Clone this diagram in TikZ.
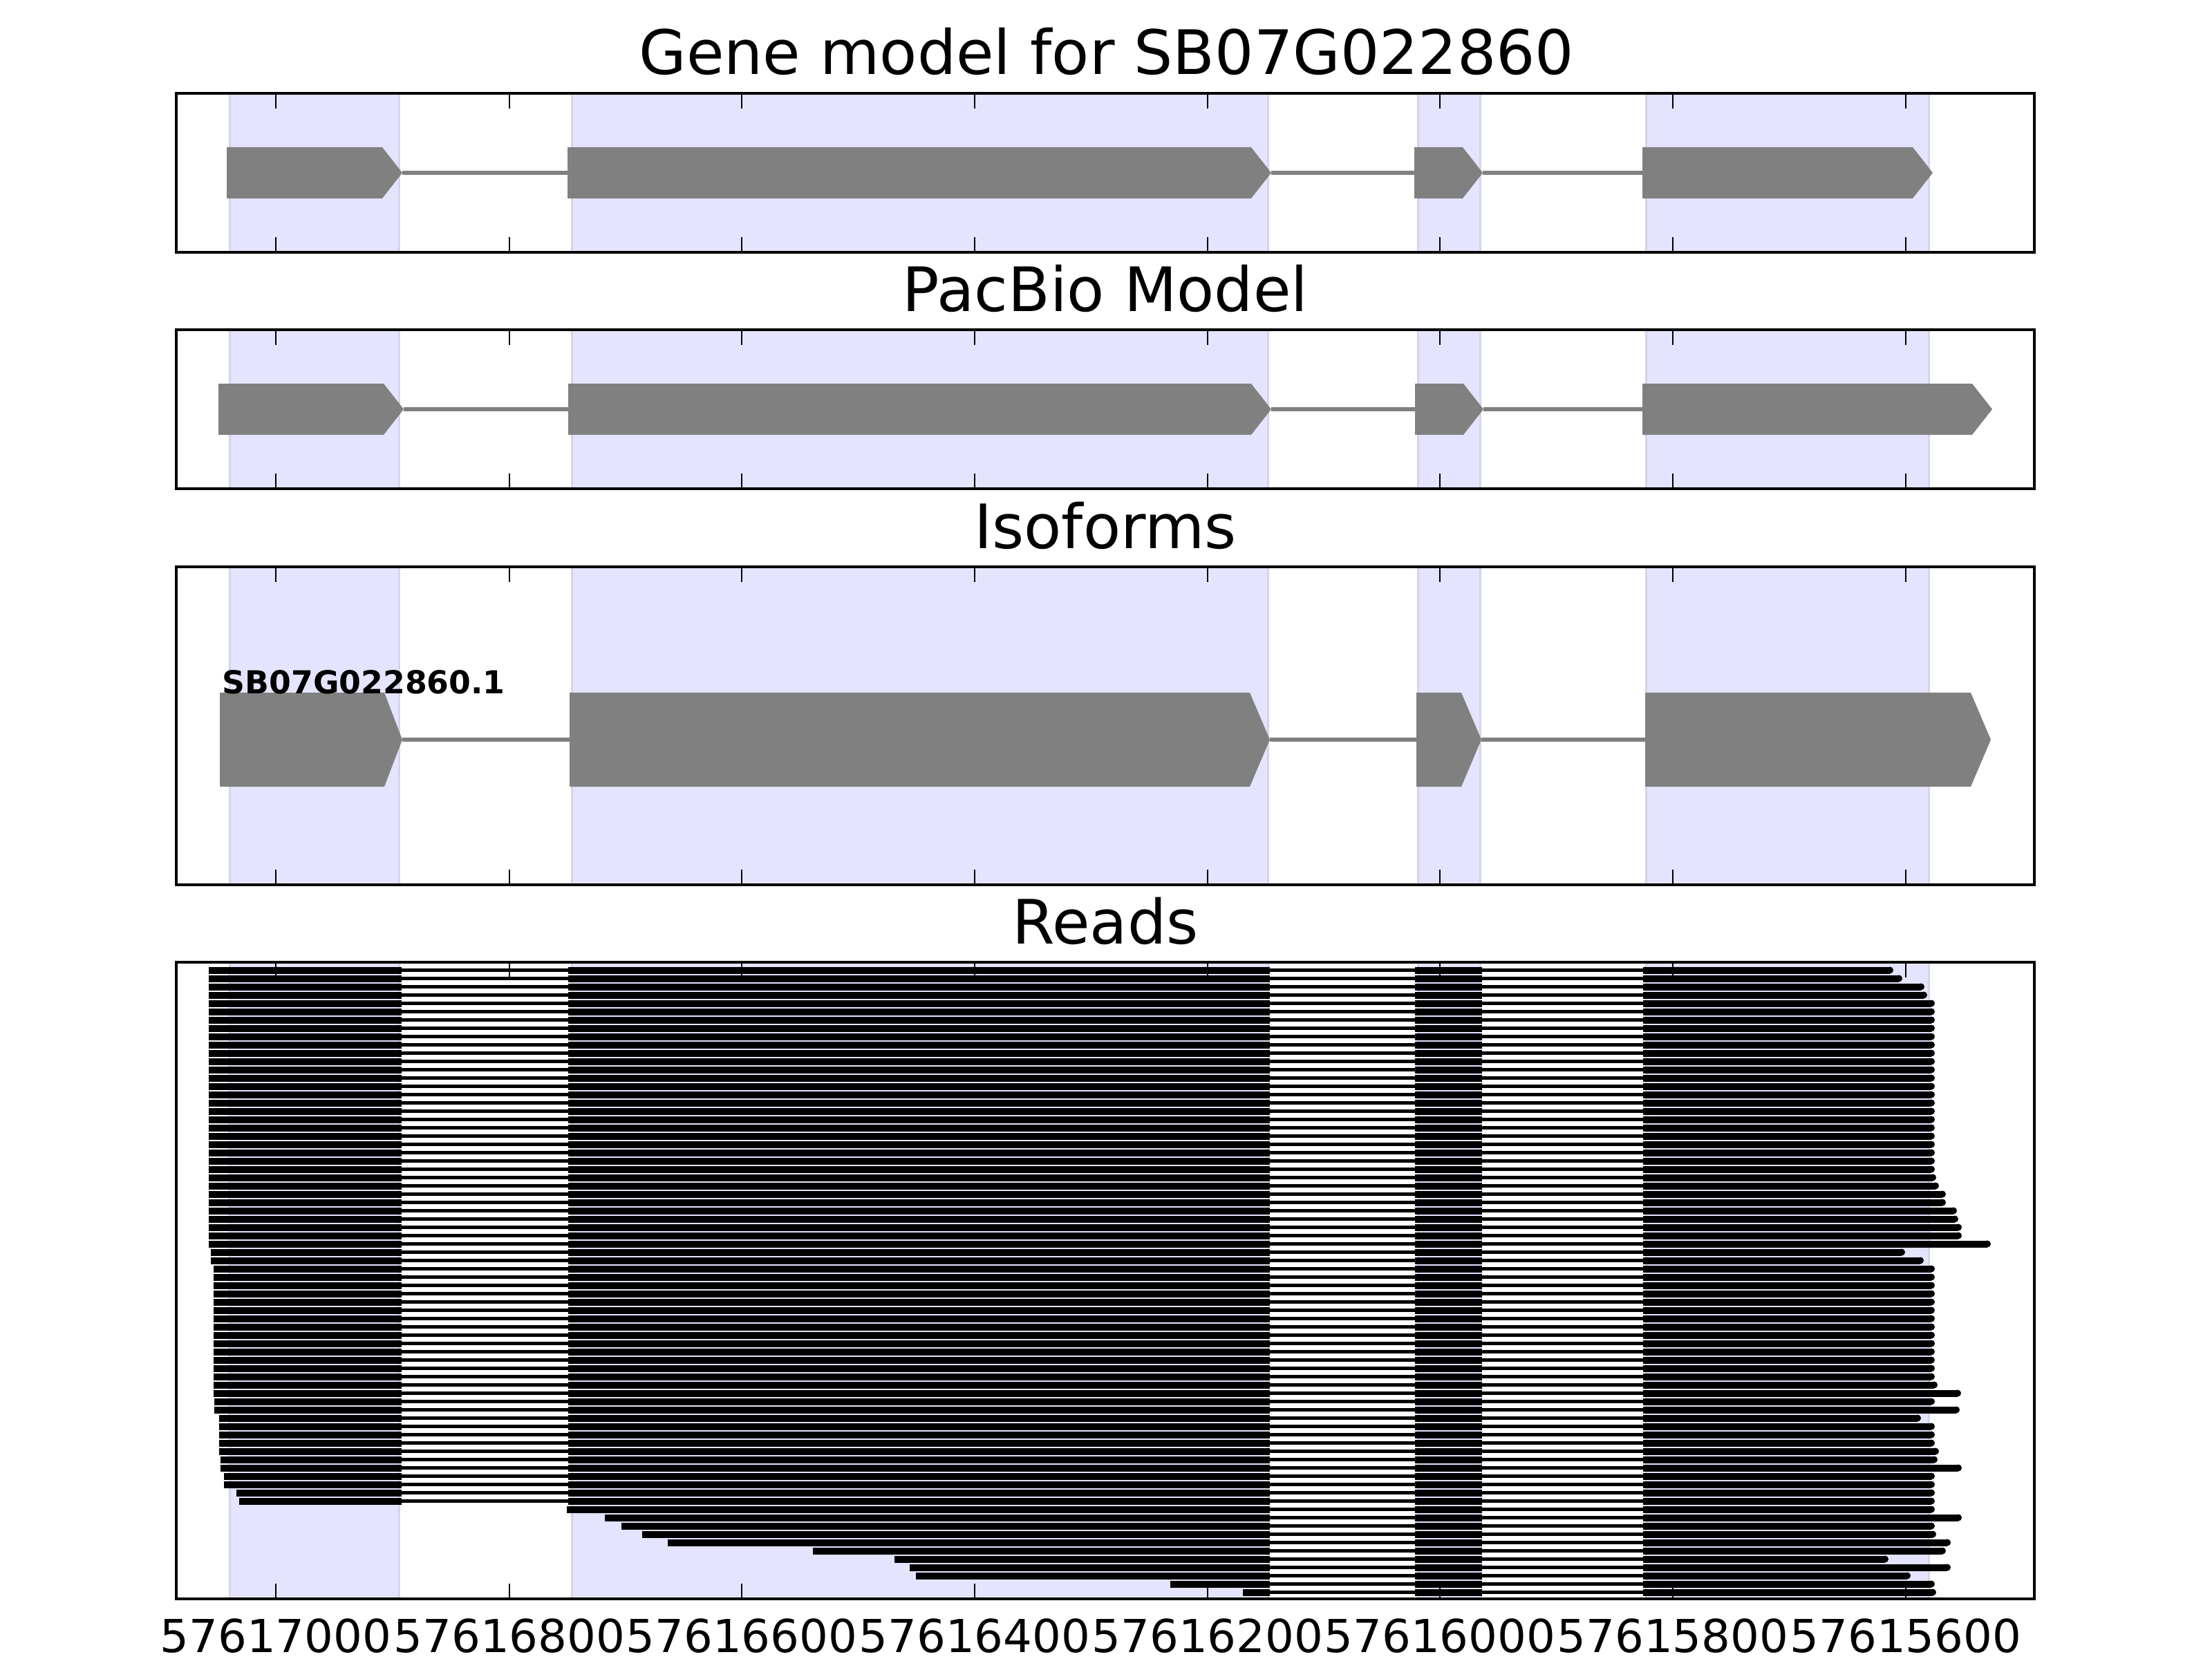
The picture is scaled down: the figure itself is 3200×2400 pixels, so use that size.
\documentclass[tikz,border=0pt]{standalone}
\usepackage{fontspec}
\setmainfont{DejaVu Sans}
\definecolor{spanfill}{RGB}{228,228,255}
\definecolor{spanedge}{RGB}{212,212,234}
\definecolor{exongray}{RGB}{128,128,128}
\tikzset{
  spanbox/.style={fill=spanfill,draw=spanedge,line width=0.03cm},
  frame/.style={draw=black,line width=0.045cm},
  tickmark/.style={draw=black,line width=0.025cm},
  gexon/.style={fill=exongray},
  gintron/.style={draw=exongray,line width=0.055cm},
  rexon/.style={fill=black},
  rintron/.style={draw=black,line width=0.05cm},
  ttl/.style={font=\fontsize{25.2}{30}\selectfont,anchor=base,inner sep=0pt},
  ticklab/.style={font=\fontsize{18.7}{22}\selectfont,anchor=base,inner sep=0pt},
  isolab/.style={font=\bfseries\fontsize{13}{15}\selectfont,anchor=base west,inner sep=0pt},
}
% gene-model exon: left, flat end, tip, top, bottom
\newcommand{\gmexon}[5]{%
  \fill[gexon] (#1,#4) -- (#2,#4) -- (#3,{(#4+#5)/2}) -- (#2,#5) -- (#1,#5) -- cycle;}
% read covering all four exons
\newcommand{\rrowa}[3]{%
  \pgfmathsetmacro{\yc}{1403.5+12*(#1-1)}%
  \pgfmathsetmacro{\ee}{#3-5}%
  \fill[rexon] (#2,{\yc-5}) rectangle (581,{\yc+5});
  \draw[rintron] (581,\yc) -- (822,\yc);
  \fill[rexon] (822,{\yc-5}) rectangle (1837,{\yc+5});
  \draw[rintron] (1837,\yc) -- (2047,\yc);
  \fill[rexon] (2047,{\yc-5}) rectangle (2144,{\yc+5});
  \draw[rintron] (2144,\yc) -- (2377,\yc);
  \fill[rexon] (2377,{\yc-5}) rectangle (\ee,{\yc+5});
  \fill[rexon] (\ee,\yc) circle[radius=0.05cm];}
% read starting inside exon 2
\newcommand{\rrowb}[3]{%
  \pgfmathsetmacro{\yc}{1403.5+12*(#1-1)}%
  \pgfmathsetmacro{\ee}{#3-5}%
  \fill[rexon] (#2,{\yc-5}) rectangle (1837,{\yc+5});
  \draw[rintron] (1837,\yc) -- (2047,\yc);
  \fill[rexon] (2047,{\yc-5}) rectangle (2144,{\yc+5});
  \draw[rintron] (2144,\yc) -- (2377,\yc);
  \fill[rexon] (2377,{\yc-5}) rectangle (\ee,{\yc+5});
  \fill[rexon] (\ee,\yc) circle[radius=0.05cm];}
\begin{document}
\begin{tikzpicture}[x=0.01cm,y=-0.01cm]
\useasboundingbox (0,0) rectangle (3200,2400);
\fill[white] (0,0) rectangle (3200,2400);

% shaded exon spans in every panel
\foreach \t/\b in {135/365,477/707,820/1280,1392/2313}{
  \foreach \a/\c in {332/577,827/1834,2051/2141,2381/2790}{
    \path[spanbox] (\a,\t) rectangle (\c,\b);
  }
}

% ---- Panel 1: gene model
\draw[gintron] (582,250) -- (821,250);
\draw[gintron] (1839,250) -- (2046,250);
\draw[gintron] (2145,250) -- (2376,250);
\gmexon{328}{553}{582}{213}{287}
\gmexon{821}{1810}{1839}{213}{287}
\gmexon{2046}{2116}{2145}{213}{287}
\gmexon{2376}{2767}{2796}{213}{287}

% ---- Panel 2: PacBio model
\draw[gintron] (584,592) -- (822,592);
\draw[gintron] (1839,592) -- (2047,592);
\draw[gintron] (2146,592) -- (2376,592);
\gmexon{316}{555}{584}{555}{629}
\gmexon{822}{1810}{1839}{555}{629}
\gmexon{2047}{2117}{2146}{555}{629}
\gmexon{2376}{2853}{2882}{555}{629}

% ---- Panel 3: isoforms
\draw[gintron] (582,1070) -- (824,1070);
\draw[gintron] (1837,1070) -- (2049,1070);
\draw[gintron] (2143,1070) -- (2380,1070);
\gmexon{318}{556}{582}{1002}{1138}
\gmexon{824}{1808}{1837}{1002}{1138}
\gmexon{2049}{2114}{2143}{1002}{1138}
\gmexon{2380}{2851}{2880}{1002}{1138}
\node[isolab] (isoname) at (321,1003) {SB07G022860.1};

% ---- Panel 4: reads
\rrowa{1}{302}{2739}
\rrowa{2}{302}{2752}
\rrowa{3}{302}{2784}
\rrowa{4}{302}{2788}
\foreach \k in {5,...,25}{\rrowa{\k}{302}{2799}}
\rrowa{26}{302}{2801}
\rrowa{27}{302}{2805}
\rrowa{28}{302}{2815}
\rrowa{29}{302}{2815}
\rrowa{30}{302}{2831}
\rrowa{31}{302}{2833}
\rrowa{32}{302}{2838}
\rrowa{33}{302}{2838}
\rrowa{34}{302}{2880}
\rrowa{35}{305}{2756}
\rrowa{36}{305}{2783}
\foreach \k in {37,...,50}{\rrowa{\k}{309}{2799}}
\rrowa{51}{309}{2803}
\rrowa{52}{309}{2837}
\rrowa{53}{310}{2799}
\rrowa{54}{310}{2835}
\rrowa{55}{317}{2779}
\rrowa{56}{317}{2799}
\rrowa{57}{317}{2799}
\rrowa{58}{317}{2799}
\rrowa{59}{317}{2805}
\rrowa{60}{319}{2803}
\rrowa{61}{319}{2838}
\rrowa{62}{324}{2799}
\rrowa{63}{324}{2799}
\rrowa{64}{342}{2799}
\rrowa{65}{346}{2799}
\rrowb{66}{820}{2799}
\rrowb{67}{875}{2838}
\rrowb{68}{899}{2799}
\rrowb{69}{929}{2801}
\rrowb{70}{966}{2822}
\rrowb{71}{1176}{2815}
\rrowb{72}{1294}{2732}
\rrowb{73}{1316}{2822}
\rrowb{74}{1325}{2764}
\rrowb{75}{1693}{2799}
\rrowb{76}{1798}{2801}

% ---- ticks and frames
\foreach \t/\b in {135/365,477/707,820/1280,1392/2313}{
  \foreach \x in {399,737,1073,1410,1747,2083,2420,2757}{
    \draw[tickmark] (\x,\t) -- (\x,\t+22);
    \draw[tickmark] (\x,\b) -- (\x,\b-22);
  }
  \draw[frame] (255,\t) rectangle (2943,\b);
}

% ---- titles
\node[ttl] (title1) at (1601,108) {Gene model for SB07G022860};
\node[ttl] (title2) at (1599,450) {PacBio Model};
\node[ttl] (title3) at (1599,793) {Isoforms};
\node[ttl] (title4) at (1599,1365) {Reads};

% ---- tick labels
\foreach \x/\l in {399/57617000,737/57616800,1073/57616600,1410/57616400,1747/57616200,2083/57616000,2420/57615800,2757/57615600}{
  \node[ticklab] (tl\l) at (\x,2390) {\l};
}
\end{tikzpicture}
\end{document}
